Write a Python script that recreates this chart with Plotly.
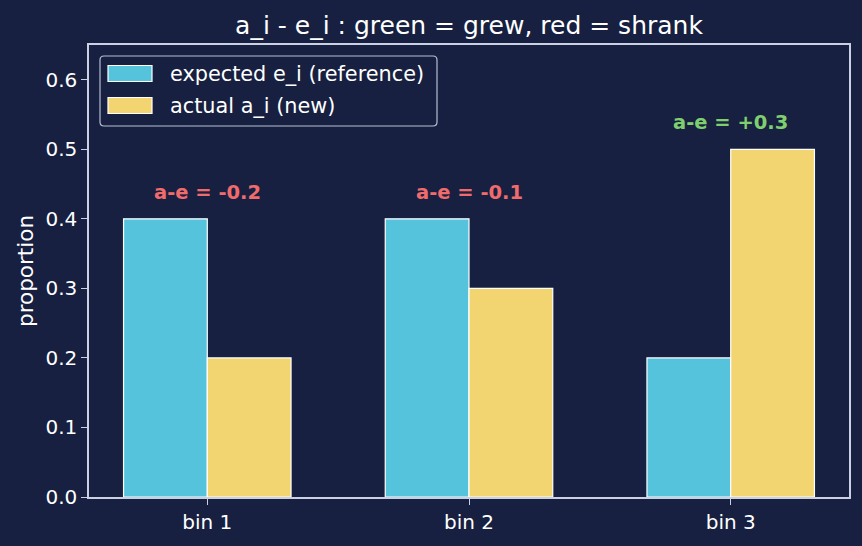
import plotly.graph_objects as go

categories = ["bin 1", "bin 2", "bin 3"]
expected = [0.4, 0.4, 0.2]
actual = [0.2, 0.3, 0.5]
diff_labels = ["a-e = -0.2", "a-e = -0.1", "a-e = +0.3"]
y_ticks = [0.0, 0.1, 0.2, 0.3, 0.4, 0.5, 0.6]
series_names = ["expected e_i (reference)", "actual a_i (new)"]

BG = "#172040"
FG = "#ffffff"
SPINE = "#c9d1e3"
CYAN = "#56c3dd"
YELLOW = "#f2d570"
RED = "#f06b6b"
GREEN = "#7fcf6f"
FONT = "DejaVu Sans"

W, H = 862, 546
ML, MR, MT, MB = 89, 13, 45, 49
PW, PH = W - ML - MR, H - MT - MB


def px_x(px):
    return (px - ML) / PW


def px_y(py):
    return (H - MB - py) / PH


xpos = list(range(len(categories)))
colors = [CYAN, YELLOW]

fig = go.Figure()
for vals, name, col in zip([expected, actual], series_names, colors):
    fig.add_trace(go.Bar(x=xpos, y=vals, name=name, showlegend=False,
                         marker=dict(color=col, line=dict(color="white", width=1.2))))

for i, (e, a, lab) in enumerate(zip(expected, actual, diff_labels)):
    col = GREEN if a - e > 0 else RED
    fig.add_annotation(x=xpos[i], y=max(e, a) + 0.038, text="<b>" + lab + "</b>",
                       showarrow=False, xanchor="center", yanchor="middle",
                       font=dict(family=FONT, size=19.5, color=col))

# custom legend (matplotlib-style wide swatches)
x0, x1, y0, y1, r = 100, 437, 56, 126, 4
path = (f"M {px_x(x0 + r)},{px_y(y0)} L {px_x(x1 - r)},{px_y(y0)} "
        f"Q {px_x(x1)},{px_y(y0)} {px_x(x1)},{px_y(y0 + r)} "
        f"L {px_x(x1)},{px_y(y1 - r)} Q {px_x(x1)},{px_y(y1)} {px_x(x1 - r)},{px_y(y1)} "
        f"L {px_x(x0 + r)},{px_y(y1)} Q {px_x(x0)},{px_y(y1)} {px_x(x0)},{px_y(y1 - r)} "
        f"L {px_x(x0)},{px_y(y0 + r)} Q {px_x(x0)},{px_y(y0)} {px_x(x0 + r)},{px_y(y0)} Z")
fig.add_shape(type="path", path=path, xref="paper", yref="paper",
              fillcolor=BG, line=dict(color=SPINE, width=1.2), opacity=0.9)
for k, (name, col) in enumerate(zip(series_names, colors)):
    cy = 73.5 + k * 32
    fig.add_shape(type="rect", xref="paper", yref="paper",
                  x0=px_x(108), x1=px_x(152), y0=px_y(cy - 8), y1=px_y(cy + 8),
                  fillcolor=col, line=dict(color="white", width=1.2))
    fig.add_annotation(x=px_x(168), y=px_y(cy), xref="paper", yref="paper",
                       text=name, showarrow=False, xanchor="left", yanchor="middle",
                       font=dict(family=FONT, size=20.8, color=FG))

fig.update_layout(
    width=W, height=H,
    paper_bgcolor=BG, plot_bgcolor=BG,
    margin=dict(l=ML, r=MR, t=MT, b=MB),
    barmode="group", bargap=0.36, bargroupgap=0,
    font=dict(family=FONT, color=FG, size=20),
    title=dict(text="a_i - e_i : green = grew, red = shrank", x=(469 / W), xanchor="center",
               y=1 - 25 / H, yanchor="middle", font=dict(size=25, color=FG, family=FONT)),
    showlegend=False,
)
fig.update_xaxes(range=[-0.452, 2.452], tickvals=xpos, ticktext=categories,
                 showline=True, mirror=True, linecolor=SPINE, linewidth=1.5,
                 ticks="outside", ticklen=6, tickcolor=SPINE, showgrid=False,
                 zeroline=False, tickfont=dict(size=20, color=FG))
fig.update_yaxes(range=[0, 0.65], tickvals=y_ticks, tickformat=".1f",
                 showline=True, mirror=True, linecolor=SPINE, linewidth=1.5,
                 ticks="outside", ticklen=6, tickcolor=SPINE, showgrid=False,
                 zeroline=False, tickfont=dict(size=20, color=FG),
                 title=dict(text="proportion", font=dict(size=21.5, color=FG), standoff=6))

fig.write_html("out.html")
